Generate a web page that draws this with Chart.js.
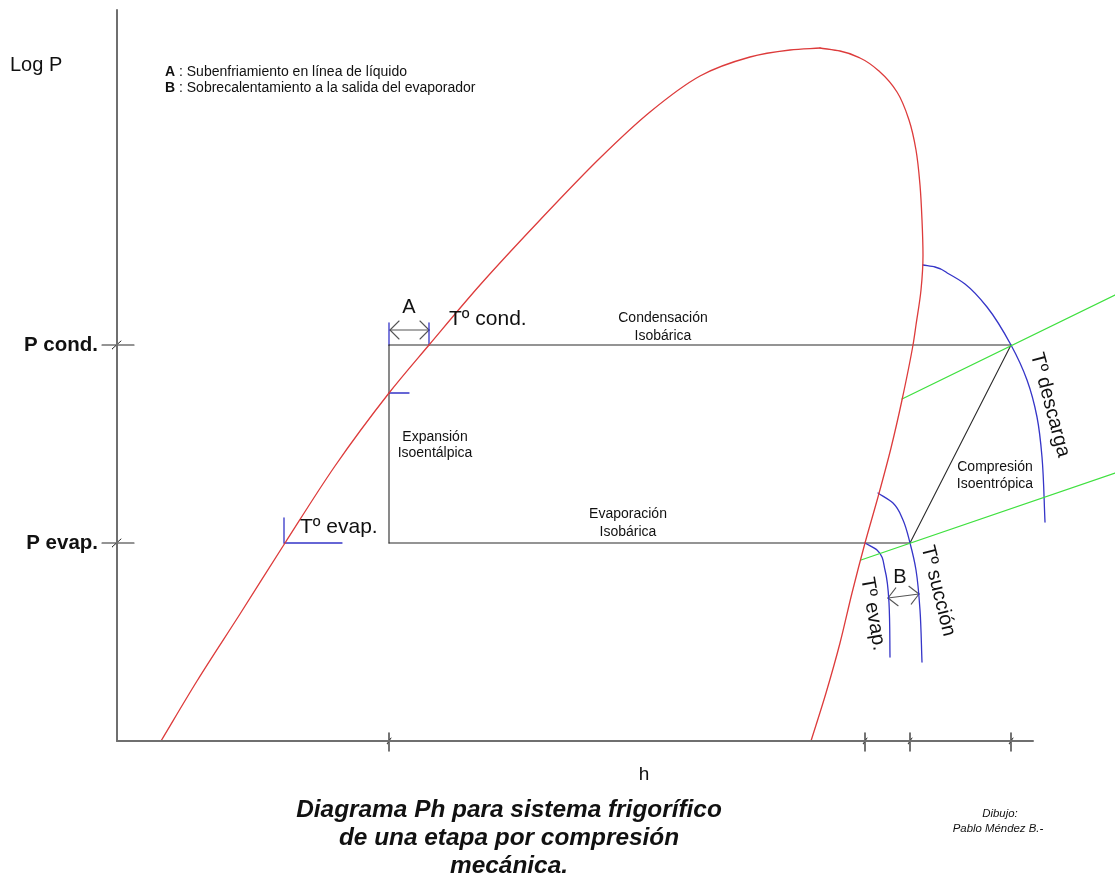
<!DOCTYPE html>
<html>
<head>
<meta charset="utf-8">
<title>Diagrama Ph</title>
<script src="https://cdn.jsdelivr.net/npm/chart.js@4.4.1/dist/chart.umd.min.js"></script>
<style>
  html, body { margin: 0; padding: 0; background: #ffffff; }
  canvas { display: block; }
</style>
</head>
<body>
<canvas id="ph" width="1115" height="879"></canvas>
<script>
// ---- Saturation dome (h, log P, arbitrary units)
// liquid line, from the bottom of the chart up to the critical point
const liquidH    = [44, 80, 123, 168, 218, 272, 312, 363, 423, 483, 533, 583, 633, 673, 703];
const liquidLogP = [0, 60, 127, 198, 275, 348, 396, 456, 521, 583, 629, 665, 684, 691, 693];
// vapour line, from the critical point down to the bottom of the chart
const vapourH    = [703, 723, 743, 763, 780, 792, 799, 803, 805, 806, 804, 799, 796, 785, 774, 761, 748, 735, 723, 709, 694];
const vapourLogP = [693, 690, 683, 669, 649, 621, 591, 556, 521, 486, 451, 416, 396, 341, 293, 244, 198, 148, 98, 48, 0];

// ---- Cycle state levels
const pCond = 396;
const pEvap = 198;
const hLiquid = 272;     // subcooled liquid, isoenthalpic expansion
const hSatLiquid = 312;  // saturated liquid at condensing pressure
const hSatVapour = 748;  // saturated vapour at evaporating pressure
const hSuction = 793;    // superheated suction
const hDischarge = 894;  // compressor discharge

// ---- Axis marks
const hTicks = [hLiquid, hSatVapour, hSuction, hDischarge];
const pTicks = [pCond, pEvap];
const pTickLabels = ['P cond.', 'P evap.'];
const hAxisEnd = 916;
const pAxisEnd = 731;

// ---- Isotherms
const dischargeH = [806, 818, 832, 848, 870, 894, 910, 920, 925, 928];
const dischargeP = [476, 474, 467, 457, 434, 396, 361, 324, 284, 219];
const suctionH = [761, 776, 786, 793, 799, 803, 805];
const suctionP = [248, 238, 221, 198, 171, 131, 79];
const evapIsoH = [748, 760, 768, 772, 773];
const evapIsoP = [198, 191, 171, 138, 84];

// ---- Isentropes
const upperIsenH = [785, 998];
const upperIsenP = [342, 446];
const lowerIsenH = [744, 998];
const lowerIsenP = [181, 268];

// ---- Subcooling (A) and superheat (B) dimension arrows
const subcoolP = 411;
const superheatH = [771, 802];
const superheatP = [143, 147];

const RED = '#dd3b3b';
const BLUE = '#3535c8';
const GREEN = '#3fe03f';
const INK = '#2a2a2a';
const AXIS = '#6f6f6f';
const ARROW = '#555555';

const zip = (hs, ps) => hs.map((h, i) => ({ x: h, y: ps[i] }));

function line(hs, ps, color, width) {
  return {
    data: zip(hs, ps), borderColor: color, borderWidth: width,
    tension: 0, pointRadius: 0, fill: false, borderCapStyle: 'round'
  };
}
// smooth curve, monotone along the given axis
function smooth(hs, ps, color, width, axis) {
  return Object.assign(line(hs, ps, color, width), {
    cubicInterpolationMode: 'monotone', indexAxis: axis
  });
}
function seg(a, b, color, width) {
  return line([a[0], b[0]], [a[1], b[1]], color, width);
}

const datasets = [];

// axes
datasets.push(seg([0, 0], [0, pAxisEnd], AXIS, 2));
datasets.push(seg([0, 0], [hAxisEnd, 0], AXIS, 2));
hTicks.forEach(h => {
  datasets.push(seg([h, -10], [h, 8], INK, 1.3));
  datasets.push(seg([h - 2, -3], [h + 2, 3], INK, 1));
});
pTicks.forEach(p => {
  datasets.push(seg([-15, p], [17, p], INK, 1.1));
  datasets.push(seg([-5, p - 4], [4, p + 4], INK, 1));
});

// dome
datasets.push(smooth(liquidH, liquidLogP, RED, 1.3, 'x'));
datasets.push(smooth(vapourH, vapourLogP, RED, 1.3, 'y'));

// isentropes
datasets.push(line(upperIsenH, upperIsenP, GREEN, 1.3));
datasets.push(line(lowerIsenH, lowerIsenP, GREEN, 1.3));

// isotherms
datasets.push(smooth(dischargeH, dischargeP, BLUE, 1.3, 'y'));
datasets.push(smooth(suctionH, suctionP, BLUE, 1.3, 'y'));
datasets.push(smooth(evapIsoH, evapIsoP, BLUE, 1.3, 'y'));

// refrigeration cycle
datasets.push(seg([hLiquid, pCond], [hDischarge, pCond], INK, 1.1));
datasets.push(seg([hLiquid, pCond], [hLiquid, pEvap], INK, 1.1));
datasets.push(seg([hLiquid, pEvap], [hSuction, pEvap], INK, 1.1));
datasets.push(seg([hSuction, pEvap], [hDischarge, pCond], INK, 1.1));

// temperature marks on the liquid line
datasets.push(seg([hLiquid, pCond], [hLiquid, pCond + 22], BLUE, 1.3));
datasets.push(seg([hSatLiquid, pCond], [hSatLiquid, pCond + 22], BLUE, 1.3));
datasets.push(seg([hLiquid, 348], [hLiquid + 20, 348], BLUE, 1.3));
datasets.push(line([167, 167, 225], [pEvap + 25, pEvap, pEvap], BLUE, 1.3));

// dimension arrows
function arrow(a, b) {
  const dx = b[0] - a[0], dy = b[1] - a[1];
  const len = Math.hypot(dx, dy), ux = dx / len, uy = dy / len;
  const hl = 9, hw = 9;
  const heads = [
    [a, [a[0] + ux * hl - uy * hw, a[1] + uy * hl + ux * hw]],
    [a, [a[0] + ux * hl + uy * hw, a[1] + uy * hl - ux * hw]],
    [b, [b[0] - ux * hl - uy * hw, b[1] - uy * hl + ux * hw]],
    [b, [b[0] - ux * hl + uy * hw, b[1] - uy * hl - ux * hw]]
  ];
  datasets.push(seg(a, b, ARROW, 1.1));
  heads.forEach(hd => datasets.push(seg(hd[0], hd[1], ARROW, 1.1)));
}
arrow([hLiquid + 1, subcoolP], [hSatLiquid, subcoolP]);
arrow([superheatH[0], superheatP[0]], [superheatH[1], superheatP[1]]);

// ---- Text
const SANS = "'Liberation Sans', Arial, sans-serif";
const small = '14px ' + SANS;
const labels = [
  { text: 'Log P', h: -107, p: 676, font: '20px ' + SANS, align: 'left' },
  { parts: [['A', 'bold 14px ' + SANS], [' : Subenfriamiento en línea de líquido', small]], h: 48, p: 669, align: 'left' },
  { parts: [['B', 'bold 14px ' + SANS], [' : Sobrecalentamiento a la salida del evaporador', small]], h: 48, p: 653, align: 'left' },
  { text: 'Condensación', h: 546, p: 423, font: small },
  { text: 'Isobárica', h: 546, p: 405, font: small },
  { text: 'Expansión', h: 318, p: 304, font: small },
  { text: 'Isoentálpica', h: 318, p: 288, font: small },
  { text: 'Evaporación', h: 511, p: 227, font: small },
  { text: 'Isobárica', h: 511, p: 209, font: small },
  { text: 'Compresión', h: 878, p: 274, font: small },
  { text: 'Isoentrópica', h: 878, p: 257, font: small },
  { text: 'A', h: 292, p: 434, font: '20px ' + SANS },
  { text: 'Tº cond.', h: 332, p: 422, font: '21px ' + SANS, align: 'left' },
  { text: 'Tº evap.', h: 183, p: 214, font: '21px ' + SANS, align: 'left' },
  { text: 'B', h: 783, p: 164, font: '20px ' + SANS },
  { text: 'Tº descarga', h: 933, p: 336, font: '20px ' + SANS, rot: 75 },
  { text: 'Tº succión', h: 821, p: 150, font: '20px ' + SANS, rot: 76 },
  { text: 'Tº evap.', h: 756, p: 127, font: '20px ' + SANS, rot: 80 },
  { text: pTickLabels[0], h: -19, p: pTicks[0], font: 'bold 20.5px ' + SANS, align: 'right' },
  { text: pTickLabels[1], h: -19, p: pTicks[1], font: 'bold 20.5px ' + SANS, align: 'right' },
  { text: 'h', h: 527, p: -34, font: '19px ' + SANS },
  { text: 'Diagrama Ph para sistema frigorífico', h: 392, p: -69, font: 'italic bold 24.4px ' + SANS },
  { text: 'de una etapa por compresión', h: 392, p: -97, font: 'italic bold 24.4px ' + SANS },
  { text: 'mecánica.', h: 392, p: -125, font: 'italic bold 24.4px ' + SANS },
  { text: 'Dibujo:', h: 883, p: -73, font: 'italic 11.4px ' + SANS },
  { text: 'Pablo Méndez B.-', h: 881, p: -88, font: 'italic 11.4px ' + SANS }
];

const textPlugin = {
  id: 'phText',
  afterDatasetsDraw(chart) {
    const { ctx, scales } = chart;
    labels.forEach(l => {
      ctx.save();
      ctx.translate(scales.x.getPixelForValue(l.h), scales.y.getPixelForValue(l.p));
      if (l.rot) ctx.rotate(l.rot * Math.PI / 180);
      ctx.fillStyle = l.color || '#111';
      ctx.textBaseline = 'middle';
      if (l.parts) {
        ctx.textAlign = 'left';
        let xOff = 0;
        l.parts.forEach(([t, f]) => {
          ctx.font = f;
          ctx.fillText(t, xOff, 0);
          xOff += ctx.measureText(t).width;
        });
      } else {
        ctx.font = l.font;
        ctx.textAlign = l.align || 'center';
        ctx.fillText(l.text, 0, 0);
      }
      ctx.restore();
    });
  }
};

new Chart(document.getElementById('ph'), {
  type: 'line',
  data: { datasets },
  options: {
    responsive: false,
    animation: false,
    events: [],
    layout: { padding: 0 },
    plugins: { legend: { display: false }, tooltip: { enabled: false } },
    scales: {
      x: { type: 'linear', min: -117, max: 998, display: false },
      y: { type: 'linear', min: -138, max: 741, display: false }
    }
  },
  plugins: [textPlugin]
});
</script>
</body>
</html>
